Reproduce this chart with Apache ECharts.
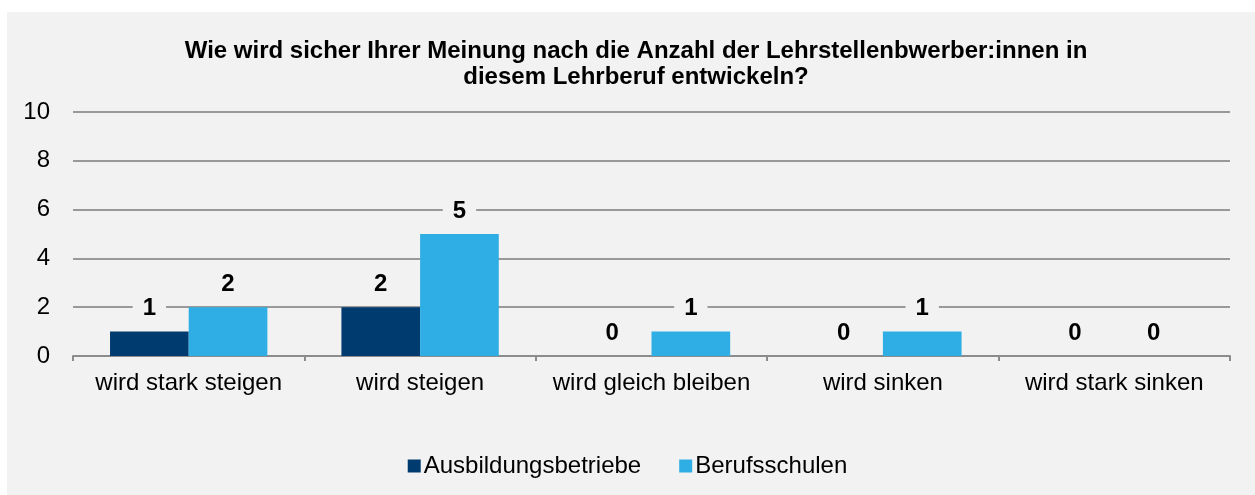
<!DOCTYPE html>
<html>
<head>
<meta charset="utf-8">
<script src="https://cdn.jsdelivr.net/npm/echarts@6/dist/echarts.min.js"></script>
<style>
  html, body { margin: 0; padding: 0; background: #fff; }
  #chart { width: 1255px; height: 495px; }
</style>
</head>
<body>
<div id="chart"></div>
<script>
var categories = ['wird stark steigen', 'wird steigen', 'wird gleich bleiben', 'wird sinken', 'wird stark sinken'];
var betriebe = [1, 2, 0, 0, 0];
var schulen = [2, 5, 1, 1, 0];
var yTicks = [0, 2, 4, 6, 8, 10];

var fontName = 'Liberation Sans, Arial, sans-serif';
var bg = '#f2f2f2';

function labelStyle() {
    return {
        show: true,
        position: 'top',
        distance: 9,
        color: '#000',
        fontWeight: 'bold',
        fontSize: 24,
        fontFamily: fontName,
        backgroundColor: bg,
        padding: [2, 10]
    };
}

var chart = echarts.init(document.getElementById('chart'));
chart.setOption({
    backgroundColor: '#fff',
    animation: false,
    graphic: [{
        type: 'rect',
        z: -10,
        silent: true,
        shape: { x: 7, y: 12, width: 1248, height: 483 },
        style: { fill: bg }
    }],
    title: {
        text: 'Wie wird sicher Ihrer Meinung nach die Anzahl der Lehrstellenbwerber:innen in\ndiesem Lehrberuf entwickeln?',
        left: 631,
        textAlign: 'center',
        top: 33,
        textStyle: {
            fontFamily: fontName,
            fontSize: 24,
            fontWeight: 'bold',
            color: '#000',
            lineHeight: 26
        }
    },
    legend: {
        bottom: 12,
        left: 'center',
        icon: 'rect',
        itemWidth: 13,
        itemHeight: 13,
        itemGap: 38,
        textStyle: { fontFamily: fontName, fontSize: 24, color: '#000', padding: [0, 0, 0, -2] },
        data: ['Ausbildungsbetriebe', 'Berufsschulen']
    },
    grid: { left: 73, right: 25, top: 112, bottom: 139, containLabel: false },
    xAxis: {
        type: 'category',
        data: categories,
        axisLine: { lineStyle: { color: '#8c8c8c', width: 2 } },
        axisTick: { show: true, interval: 0, length: 5, lineStyle: { color: '#8c8c8c', width: 2 } },
        axisLabel: { interval: 0, fontFamily: fontName, fontSize: 24, color: '#000', margin: 15 }
    },
    yAxis: {
        type: 'value',
        min: yTicks[0],
        max: yTicks[yTicks.length - 1],
        interval: 2,
        axisLine: { show: false },
        axisTick: { show: false },
        axisLabel: { fontFamily: fontName, fontSize: 24, color: '#000', margin: 23 },
        splitLine: { lineStyle: { color: '#999999', width: 2 } }
    },
    series: [{
        name: 'Ausbildungsbetriebe',
        type: 'bar',
        data: betriebe,
        barGap: '0%',
        barCategoryGap: '32%',
        itemStyle: { color: '#003b6f' },
        label: labelStyle()
    }, {
        name: 'Berufsschulen',
        type: 'bar',
        data: schulen,
        barGap: '0%',
        barCategoryGap: '32%',
        itemStyle: { color: '#2eaee4' },
        label: labelStyle()
    }]
});

window.addEventListener('resize', function () {
    chart.resize();
});
</script>
</body>
</html>
